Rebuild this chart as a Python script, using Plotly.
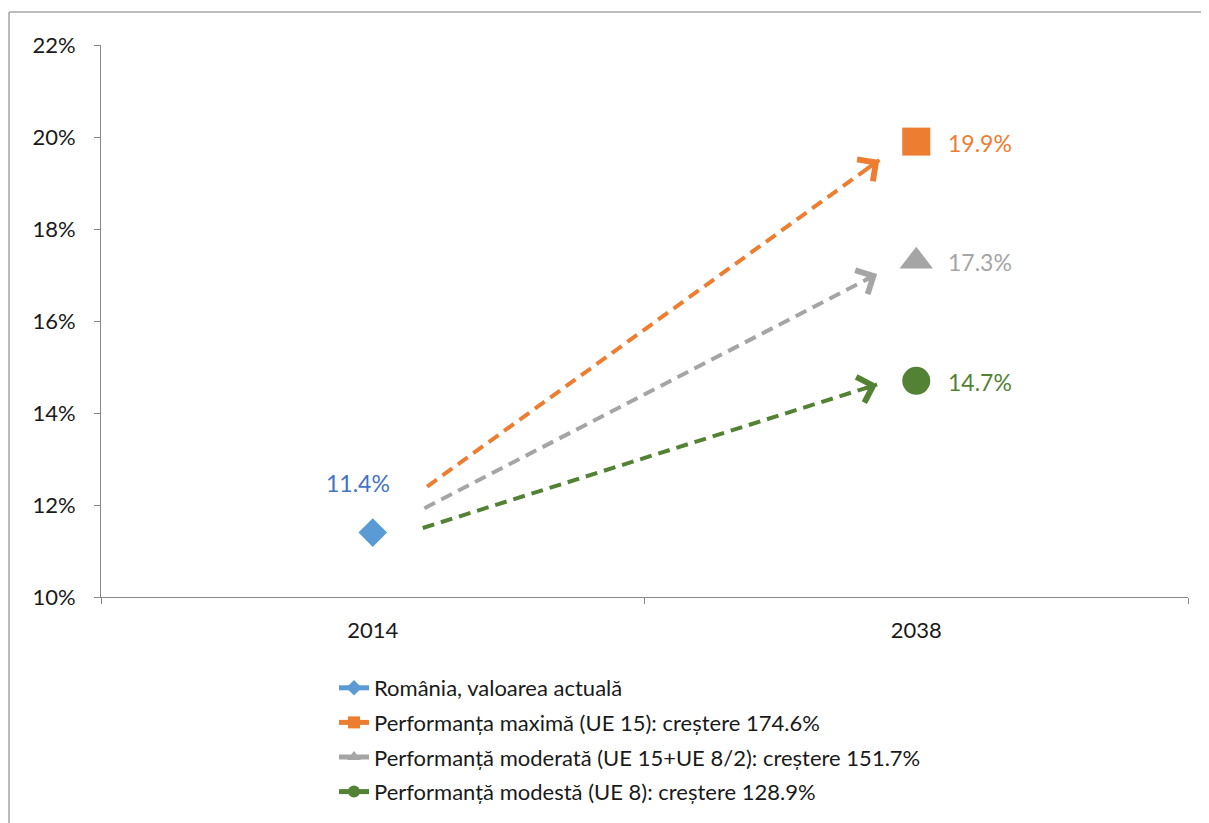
import plotly.graph_objects as go

# ---- data ----
years = ["2014", "2038"]
series_names = [
    "România, valoarea actuală",
    "Performanța maximă (UE 15): creștere 174.6%",
    "Performanță moderată (UE 15+UE 8/2): creștere 151.7%",
    "Performanță modestă (UE 8): creștere 128.9%",
]
series_years = ["2014", "2038", "2038", "2038"]
series_values = [11.4, 19.9, 17.3, 14.7]
series_colors = ["#5B9BD5", "#ED7D31", "#A5A5A5", "#548235"]
label_colors = ["#4472C4", "#ED7D31", "#A5A5A5", "#548235"]
series_symbols = ["diamond", "square", "triangle-up", "circle"]
marker_sizes = [22, 28, 29, 28]

# dashed arrows (positions along the category axis: 0 = 2014, 1 = 2038)
arrow_x_start = [0.10, 0.095, 0.092]
arrow_x_end = [0.932, 0.928, 0.928]
arrow_y_start = [12.4, 11.93, 11.5]
arrow_y_end = [19.5, 17.02, 14.62]
arrow_colors = ["#ED7D31", "#A5A5A5", "#548235"]

y_ticks = [10, 12, 14, 16, 18, 20, 22]
y_tick_labels = [f"{v}%" for v in y_ticks]

FONT = "Lato"
OX, OY = 8, 8  # page offset of the plot div
W, H = 1209, 823
L, R, T, B = 101 - OX, W - (1188 - OX), 45 - OY, H - (597 - OY)
PW, PH = W - L - R, H - T - B

fig = go.Figure()

for name, yr, val, col, sym, ms in zip(series_names, series_years, series_values,
                                         series_colors, series_symbols, marker_sizes):
    fig.add_trace(go.Scatter(
        x=[yr], y=[val], name=name, mode="lines+markers",
        line=dict(color=col, width=4),
        marker=dict(symbol=sym, size=ms, color=col),
        legendgroup=name,
        xaxis="x", yaxis="y",
    ))

for xs, xe, ys, ye, col in zip(arrow_x_start, arrow_x_end, arrow_y_start,
                               arrow_y_end, arrow_colors):
    fig.add_trace(go.Scatter(
        x=[xs, xe], y=[ys, ye], mode="lines", showlegend=False,
        line=dict(color=col, width=4, dash="12px,7px"),
        xaxis="x2", yaxis="y", hoverinfo="skip",
    ))
    t = 0.97
    fig.add_annotation(
        x=xe, y=ye, xref="x2", yref="y",
        ax=xs + (xe - xs) * t, ay=ys + (ye - ys) * t, axref="x2", ayref="y",
        text="", showarrow=True, arrowhead=4, arrowsize=1.3, arrowwidth=4,
        arrowcolor=col, standoff=0,
    )

# data labels
for yr, val, col in zip(series_years, series_values, label_colors):
    xi = years.index(yr)
    if xi == 0:
        fig.add_annotation(x=xi, y=val, xref="x2", yref="y", text=f"{val:.1f}%",
                           showarrow=False, xanchor="center", yanchor="middle",
                           xshift=-15, yshift=50,
                           font=dict(family=FONT, size=23, color=col))
    else:
        fig.add_annotation(x=xi, y=val, xref="x2", yref="y", text=f"{val:.1f}%",
                           showarrow=False, xanchor="left", yanchor="middle",
                           xshift=30, yshift=-1,
                           font=dict(family=FONT, size=23, color=col))

# outer chart border (only top and left edges fall inside the picture)
border = dict(color="#A6A6A6", width=1.5)
fig.add_shape(type="line", xref="paper", yref="paper",
              x0=(9 - 101) / PW, x1=(1209 - 101) / PW,
              y0=1 + (45 - 12) / PH, y1=1 + (45 - 12) / PH, line=border)
fig.add_shape(type="line", xref="paper", yref="paper",
              x0=(9 - 101) / PW, x1=(9 - 101) / PW,
              y0=1 + (45 - 12) / PH, y1=-(830 - 597) / PH, line=border)

fig.update_layout(
    width=W, height=H,
    margin=dict(l=L, r=R, t=T, b=B),
    paper_bgcolor="white", plot_bgcolor="white",
    font=dict(family=FONT, size=22, color="#1a1a1a"),
    showlegend=True,
    legend=dict(
        x=(334 - 101) / PW, y=-(667 - 597) / PH, xanchor="left", yanchor="top",
        orientation="v", traceorder="grouped", tracegroupgap=3,
        itemsizing="constant",
        font=dict(family=FONT, size=22, color="#1a1a1a"),
        bgcolor="rgba(0,0,0,0)",
    ),
    xaxis=dict(
        type="category", categoryorder="array", categoryarray=years,
        range=[-0.5, 1.5], tickson="boundaries",
        showline=True, linecolor="#898989", linewidth=1,
        ticks="outside", ticklen=6, tickcolor="#898989",
        showgrid=False, zeroline=False, ticklabelstandoff=14,
        tickfont=dict(family=FONT, size=22, color="#1a1a1a"),
        fixedrange=True,
    ),
    xaxis2=dict(
        overlaying="x", range=[-0.5, 1.5], visible=False, fixedrange=True,
    ),
    yaxis=dict(
        range=[10, 22], tickmode="array", tickvals=y_ticks, ticktext=y_tick_labels,
        showline=True, linecolor="#898989", linewidth=1,
        ticks="outside", ticklen=6, tickcolor="#898989",
        showgrid=False, zeroline=False, ticklabelstandoff=14,
        tickfont=dict(family=FONT, size=22, color="#1a1a1a"),
        fixedrange=True,
    ),
)

fig.write_html("out.html")
